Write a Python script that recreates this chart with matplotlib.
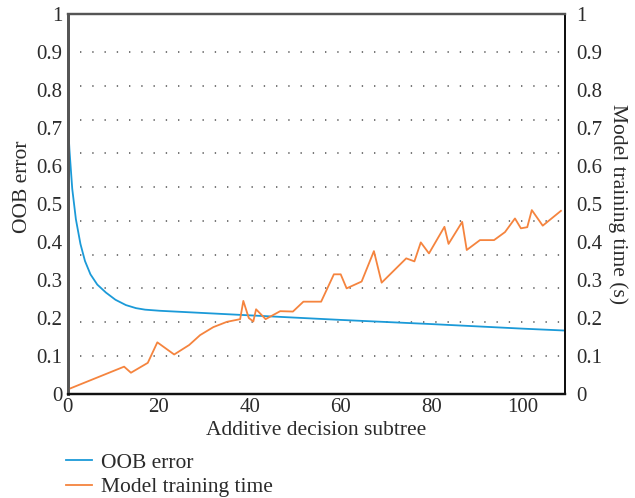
import numpy as np
import matplotlib.pyplot as plt

plt.rcParams['font.family'] = ['Liberation Serif', 'DejaVu Serif']

# OOB error vs number of subtrees
oob_x = [0, 0.4, 1.0, 1.8, 2.8, 3.8, 5.0, 6.5, 8.4, 10.5, 12.8, 15.0, 17.0, 20.3, 40, 60, 80, 100, 109.3]
oob_y = [0.725, 0.64, 0.54, 0.46, 0.395, 0.35, 0.315, 0.288, 0.267, 0.248, 0.234, 0.226, 0.222, 0.219,
         0.207, 0.195, 0.184, 0.172, 0.167]

# training time (s)
time_x = [0, 12.4, 13.9, 17.6, 19.7, 23.4, 26.7, 29.1, 32, 35, 37.9, 38.6, 39.8, 40.8, 41.4, 43.5,
          46.7, 49.5, 51.8, 55.7, 58.5, 60, 61.3, 64.6, 67.3, 69, 74.4, 76.2, 77.6, 79.4, 82.8, 83.7,
          86.7, 87.7, 90.6, 93.7, 96.1, 98.3, 99.6, 101, 102, 104.4, 108.4]
time_y = [0.012, 0.072, 0.056, 0.082, 0.136, 0.104, 0.129, 0.155, 0.176, 0.19, 0.197, 0.245, 0.2,
          0.191, 0.223, 0.197, 0.218, 0.217, 0.243, 0.243, 0.315, 0.315, 0.278, 0.296, 0.376, 0.293,
          0.357, 0.349, 0.399, 0.370, 0.44, 0.395, 0.453, 0.379, 0.405, 0.405, 0.426, 0.462, 0.436,
          0.439, 0.484, 0.443, 0.482]

yticks = [0, 0.1, 0.2, 0.3, 0.4, 0.5, 0.6, 0.7, 0.8, 0.9, 1]
ylabels = ['0', '0.1', '0.2', '0.3', '0.4', '0.5', '0.6', '0.7', '0.8', '0.9', '1']
xticks = [0, 20, 40, 60, 80, 100]

blue = '#1b9ad8'
orange = '#f5843e'
txt = '#2b2b2b'
fs = 15

fig = plt.figure(figsize=(6.35, 4.98), dpi=100)
ax = fig.add_axes([0.1066, 0.2088, 0.7832, 0.7631])
ax2 = ax.twinx()

# dotted guide rows
for yy in np.linspace(0.1, 0.9, 10):
    ax.axhline(yy, xmin=0.025, xmax=0.992, color='#777777', lw=1.4,
               linestyle=(0, (0.7, 5.6)), zorder=0)

l1, = ax.plot(oob_x, oob_y, color=blue, lw=1.3, label='OOB error')
l2, = ax2.plot(time_x, time_y, color=orange, lw=1.3, label='Model training time')

ax.set_xlim(0, 109.3)
ax.set_ylim(0, 1)
ax2.set_ylim(0, 1)
ax.set_xticks(xticks)
ax.set_yticks(yticks)
ax.set_yticklabels(ylabels)
ax2.set_yticks(yticks)
ax2.set_yticklabels(ylabels)

ax.tick_params(axis='both', length=0, labelsize=fs, colors=txt)
ax.tick_params(axis='y', pad=4)
ax.tick_params(axis='x', pad=3)
ax2.tick_params(axis='y', length=0, labelsize=fs, colors=txt, pad=8)

for a in (ax, ax2):
    a.spines['left'].set_color('#555555')
    a.spines['left'].set_linewidth(2)
    a.spines['top'].set_color('#555555')
    a.spines['top'].set_linewidth(1.6)
    a.spines['right'].set_color('#111111')
    a.spines['right'].set_linewidth(1.4)
    a.spines['bottom'].set_color('#111111')
    a.spines['bottom'].set_linewidth(1.6)

ax.set_xlabel('Additive decision subtree', fontsize=fs + 0.5, color=txt, labelpad=3)
ax.set_ylabel('OOB error', fontsize=fs + 0.5, color=txt)
ax.yaxis.set_label_coords(-0.072, 0.545)
ax2.set_ylabel('Model training time (s)', fontsize=fs + 0.5, color=txt, rotation=-90, labelpad=18)

fig.legend(handles=[l1, l2], loc='upper left', bbox_to_anchor=(0.09, 0.108), frameon=False,
           fontsize=fs + 0.5, handlelength=1.2, handletextpad=0.45, labelspacing=0.2,
           labelcolor=txt, borderaxespad=0)

fig.savefig('out.png', dpi=100)
